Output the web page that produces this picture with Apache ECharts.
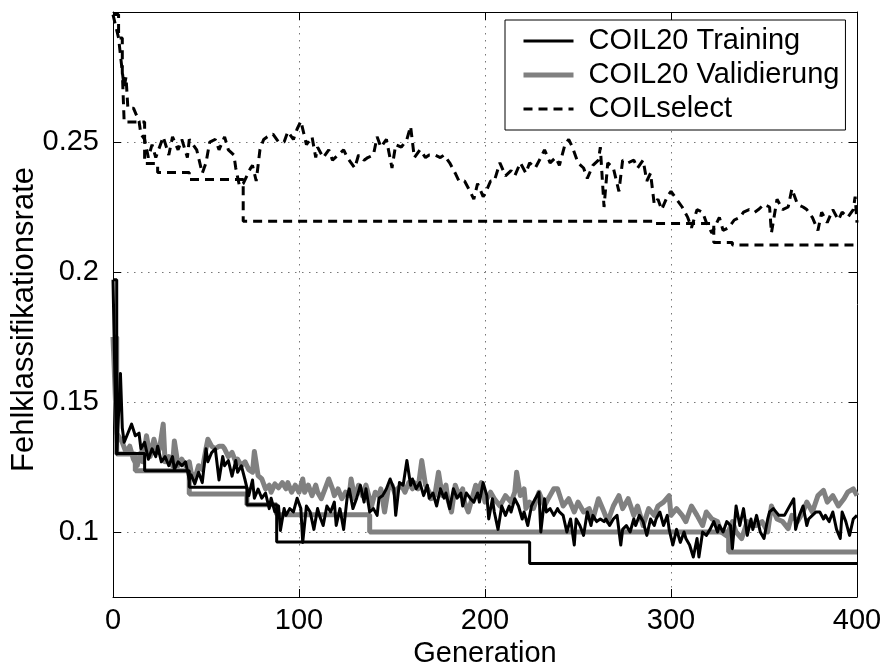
<!DOCTYPE html>
<html><head><meta charset="utf-8">
<script src="https://cdn.jsdelivr.net/npm/echarts@6/dist/echarts.min.js"></script>
<style>html,body{margin:0;padding:0;background:#fff}#c{width:883px;height:663px}</style>
</head><body><div id="c"></div>
<script>
const xTicks = [0, 100, 200, 300, 400];
const yTicks = [0.1, 0.15, 0.2, 0.25];
const legendNames = ['COIL20 Training', 'COIL20 Validierung', 'COILselect'];

// COIL20 Training (noisy)
const trGen = [0,1,2,4,5,6,8,10,12,14,15,17,19,21,23,24,26,28,30,32,33,35,37,39,41,42,44,46,48,50,51,53,55,57,59,60,62,64,66,67,69,71,73,75,76,78,80,82,84,85,87,89,90,92,93,95,97,99,101,102,104,106,108,110,111,113,115,117,119,120,122,124,126,127,129,131,133,135,136,138,140,142,143,145,147,149,151,152,154,156,158,160,161,163,165,167,169,170,172,174,176,178,179,181,183,185,187,188,190,192,194,196,197,199,201,202,204,205,207,209,211,213,214,216,218,220,221,223,225,227,229,230,232,233,235,237,239,240,242,244,246,248,249,251,253,255,257,258,260,262,264,265,267,269,271,273,274,276,278,280,281,283,285,287,289,291,292,294,296,298,299,301,303,305,307,308,310,312,314,315,317,319,321,323,325,326,328,330,332,333,335,337,339,341,343,344,346,348,350,352,353,355,358,361,363,366,367,369,371,373,374,376,378,380,382,383,385,387,389,391,392,394,396,398,400];
const trVal = [0.197,0.16,0.13,0.161,0.14,0.1345,0.138,0.1415,0.137,0.138,0.132,0.1345,0.128,0.132,0.129,0.133,0.127,0.129,0.1255,0.129,0.124,0.127,0.1255,0.127,0.120,0.122,0.1185,0.123,0.119,0.132,0.127,0.1305,0.132,0.120,0.129,0.1255,0.1275,0.1215,0.1275,0.123,0.1255,0.120,0.114,0.120,0.113,0.1165,0.113,0.115,0.109,0.113,0.1077,0.110,0.1006,0.109,0.1064,0.109,0.1077,0.113,0.109,0.096,0.110,0.1077,0.101,0.109,0.1064,0.1025,0.110,0.1077,0.1115,0.1025,0.109,0.101,0.114,0.1166,0.109,0.113,0.118,0.1115,0.1166,0.1077,0.109,0.1064,0.113,0.114,0.1166,0.1204,0.1166,0.1064,0.119,0.118,0.1275,0.118,0.1204,0.1166,0.119,0.114,0.118,0.113,0.115,0.110,0.1166,0.113,0.115,0.109,0.1166,0.113,0.115,0.110,0.115,0.113,0.1115,0.115,0.1115,0.119,0.114,0.105,0.1128,0.1077,0.101,0.110,0.1064,0.110,0.1077,0.1128,0.110,0.105,0.1077,0.1025,0.110,0.1128,0.1153,0.100,0.1128,0.1077,0.109,0.1064,0.109,0.1077,0.1064,0.100,0.105,0.095,0.105,0.1025,0.0987,0.1077,0.1025,0.1064,0.104,0.105,0.104,0.105,0.1025,0.105,0.1064,0.095,0.101,0.1025,0.100,0.105,0.1025,0.1064,0.104,0.0987,0.105,0.1025,0.105,0.1077,0.1025,0.1064,0.101,0.095,0.101,0.096,0.100,0.0975,0.095,0.0904,0.0975,0.0904,0.100,0.0987,0.101,0.104,0.100,0.1025,0.100,0.104,0.1025,0.0936,0.110,0.1025,0.109,0.0987,0.105,0.101,0.1064,0.100,0.0975,0.105,0.1077,0.109,0.1064,0.1064,0.109,0.1128,0.101,0.1064,0.110,0.1025,0.105,0.1064,0.1077,0.1077,0.105,0.1064,0.104,0.1077,0.101,0.0975,0.1077,0.104,0.0987,0.105,0.1064];

// COIL20 Training (best so far, stairs)
const trBestGen = [0,2,17,41,72,88,224,400];
const trBestVal = [0.197,0.1302,0.1236,0.1172,0.1105,0.0962,0.0879,0.0879];

// COIL20 Validierung (noisy)
const vaGen = [0,2,5,7,9,11,13,15,16,18,20,22,24,25,27,28,30,32,33,35,37,39,41,42,44,46,48,50,51,53,55,57,59,60,62,64,66,67,69,71,73,75,76,78,80,82,84,85,87,89,91,93,94,96,98,100,102,103,105,107,109,110,112,114,116,118,119,121,123,125,127,128,130,132,134,136,137,139,141,143,144,146,148,150,152,153,155,157,159,161,162,164,166,168,170,171,173,175,177,179,180,182,184,186,188,189,191,193,195,196,198,200,203,205,208,211,214,216,217,219,221,222,224,226,229,232,234,237,239,242,245,248,250,253,256,258,261,264,266,269,272,274,277,280,282,285,288,291,293,296,299,300,303,306,308,311,314,317,319,322,325,327,330,333,335,338,341,343,346,349,352,354,357,360,363,365,368,371,373,376,379,382,384,387,390,393,395,398,400];
const vaVal = [0.175,0.138,0.1345,0.1306,0.133,0.128,0.1255,0.1306,0.127,0.137,0.129,0.1357,0.1306,0.132,0.1415,0.127,0.129,0.1255,0.135,0.1255,0.128,0.1255,0.127,0.123,0.1204,0.1255,0.124,0.132,0.1357,0.133,0.132,0.133,0.133,0.132,0.129,0.1306,0.127,0.128,0.1255,0.127,0.124,0.123,0.131,0.1217,0.1204,0.1166,0.118,0.1153,0.1185,0.117,0.119,0.1166,0.119,0.1153,0.118,0.1153,0.1204,0.1153,0.118,0.114,0.118,0.1153,0.1128,0.1166,0.1204,0.1166,0.114,0.1166,0.1128,0.1153,0.114,0.1204,0.1128,0.118,0.114,0.118,0.1153,0.110,0.1153,0.114,0.1166,0.1077,0.1166,0.118,0.114,0.1166,0.118,0.1153,0.119,0.1166,0.119,0.1166,0.1275,0.118,0.1153,0.1128,0.114,0.123,0.114,0.118,0.1128,0.1077,0.118,0.114,0.1166,0.1115,0.1077,0.1128,0.118,0.1153,0.119,0.1115,0.1153,0.1128,0.110,0.114,0.1115,0.1153,0.123,0.114,0.1166,0.109,0.1115,0.109,0.1153,0.110,0.1128,0.1166,0.1166,0.110,0.1128,0.1077,0.1115,0.1077,0.109,0.105,0.1128,0.1077,0.104,0.110,0.114,0.109,0.1128,0.1064,0.110,0.1025,0.109,0.1064,0.110,0.1115,0.114,0.1064,0.109,0.1064,0.104,0.110,0.1064,0.1025,0.1077,0.105,0.104,0.100,0.0985,0.104,0.100,0.0975,0.104,0.1025,0.1025,0.104,0.100,0.110,0.105,0.104,0.1013,0.1064,0.104,0.1077,0.1115,0.1077,0.114,0.116,0.1115,0.114,0.110,0.1128,0.1153,0.1166,0.114];

// COIL20 Validierung (stairs)
const vaBestGen = [0,2,12,41,72,88,138,331,400];
const vaBestVal = [0.175,0.13,0.1236,0.1146,0.1105,0.1066,0.1,0.0923,0.0923];

// COILselect (noisy)
const selGen = [0,3,5,6,7,8,11,14,15,17,19,21,23,25,27,30,32,35,37,40,41,45,48,50,52,55,57,60,62,65,66,68,70,72,74,75,77,79,81,83,86,89,92,94,97,99,101,104,107,109,110,113,116,118,121,124,126,130,132,135,137,140,142,144,147,150,152,155,158,160,162,165,168,170,173,176,178,181,184,186,189,192,194,196,199,200,203,205,208,211,214,216,219,222,224,227,230,232,235,238,240,243,245,247,250,253,255,258,261,262,264,266,269,272,274,277,280,282,285,287,289,291,293,295,298,300,303,306,309,311,314,317,319,322,326,328,331,334,337,339,342,345,347,350,353,354,357,360,363,365,368,371,373,376,379,381,384,387,390,392,395,398,399,400];
const selVal = [0.299,0.290,0.277,0.271,0.275,0.263,0.263,0.258,0.253,0.251,0.244,0.249,0.244,0.248,0.252,0.245,0.252,0.247,0.251,0.244,0.251,0.247,0.238,0.242,0.250,0.251,0.247,0.252,0.247,0.245,0.240,0.233,0.234,0.237,0.240,0.241,0.235,0.247,0.251,0.252,0.253,0.250,0.250,0.254,0.251,0.255,0.258,0.249,0.252,0.244,0.248,0.244,0.247,0.243,0.245,0.247,0.244,0.240,0.245,0.243,0.244,0.245,0.252,0.248,0.251,0.240,0.249,0.248,0.251,0.256,0.244,0.247,0.244,0.245,0.245,0.244,0.245,0.242,0.238,0.235,0.235,0.231,0.228,0.234,0.229,0.230,0.235,0.235,0.242,0.237,0.239,0.237,0.242,0.238,0.242,0.240,0.244,0.247,0.242,0.244,0.241,0.249,0.251,0.248,0.242,0.240,0.236,0.241,0.243,0.248,0.225,0.242,0.240,0.231,0.243,0.242,0.243,0.240,0.243,0.235,0.238,0.226,0.228,0.224,0.229,0.231,0.228,0.225,0.221,0.217,0.224,0.223,0.219,0.215,0.221,0.216,0.217,0.220,0.221,0.223,0.224,0.223,0.224,0.226,0.225,0.215,0.228,0.224,0.225,0.232,0.226,0.225,0.224,0.221,0.216,0.223,0.219,0.224,0.220,0.223,0.221,0.224,0.229,0.219];

// COILselect (stairs)
const selBestGen = [0,3,5,6,17,24,41,70,290,323,333,400];
const selBestVal = [0.299,0.290,0.277,0.2577,0.2417,0.2383,0.2356,0.2195,0.2187,0.2113,0.2104,0.2104];

const pairs = (g, v) => g.map((x, i) => [x, v[i]]);
const FONT = "'Liberation Sans', Arial, Helvetica, sans-serif";
const GRAY = '#808080';
const DASH = [9, 6];

const chart = echarts.init(document.getElementById('c'), null, {renderer: 'canvas'});
const gridLine = {show: true, lineStyle: {color: '#777', width: 1, type: [1.5, 5.5]}};
const axisLine = {show: true, onZero: false, lineStyle: {color: '#000', width: 1}};
const baseLine = {type: 'line', showSymbol: false, symbol: 'none', animation: false, silent: true};

chart.setOption({
  animation: false,
  backgroundColor: '#fff',
  textStyle: {fontFamily: FONT},
  grid: {left: 113, right: 26, top: 12, bottom: 66, containLabel: false, outerBoundsMode: 'none'},
  legend: {
    data: [
      {name: legendNames[0], lineStyle: {color: '#000', width: 3}},
      {name: legendNames[1], lineStyle: {color: GRAY, width: 5}},
      {name: legendNames[2], lineStyle: {color: '#000', width: 3, type: DASH}}
    ],
    orient: 'vertical',
    left: 505, top: 20,
    backgroundColor: '#fff',
    borderColor: '#000', borderWidth: 1,
    padding: [4, 6, 4, 16],
    itemGap: 0,
    itemWidth: 50, itemHeight: 20,
    itemStyle: {opacity: 0},
    textStyle: {fontFamily: FONT, fontSize: 29, color: '#000', lineHeight: 34, padding: [0, 0, 0, 10]},
    selectedMode: false
  },
  xAxis: [{
    type: 'value', min: 0, max: 400, interval: 100, position: 'bottom',
    name: 'Generation', nameLocation: 'middle', nameGap: 42, nameMoveOverlap: false,
    nameTextStyle: {fontFamily: FONT, fontSize: 29, color: '#000'},
    axisLine: axisLine,
    axisTick: {show: true, inside: true, length: 8, lineStyle: {color: '#000'}, customValues: xTicks},
    axisLabel: {show: true, fontFamily: FONT, fontSize: 29, color: '#000', margin: 9, customValues: xTicks},
    splitLine: gridLine
  }, {
    type: 'value', min: 0, max: 400, interval: 100, position: 'top',
    axisLine: axisLine,
    axisTick: {show: true, inside: true, length: 8, lineStyle: {color: '#000'}, customValues: xTicks},
    axisLabel: {show: false},
    splitLine: {show: false}
  }],
  yAxis: [{
    type: 'value', min: 0.075, max: 0.3, interval: 0.025, position: 'left',
    name: 'Fehlklassifikationsrate', nameLocation: 'middle', nameGap: 73, nameMoveOverlap: false,
    nameTextStyle: {fontFamily: FONT, fontSize: 31, color: '#000', padding: [0, 30, 0, 0]},
    axisLine: axisLine,
    axisTick: {show: true, inside: true, length: 8, lineStyle: {color: '#000'}, customValues: yTicks},
    axisLabel: {show: true, fontFamily: FONT, fontSize: 29, color: '#000', margin: 14, customValues: yTicks,
      formatter: v => String(+v.toFixed(3))},
    splitLine: gridLine
  }, {
    type: 'value', min: 0.075, max: 0.3, interval: 0.025, position: 'right',
    axisLine: axisLine,
    axisTick: {show: true, inside: true, length: 8, lineStyle: {color: '#000'}, customValues: yTicks},
    axisLabel: {show: false},
    splitLine: {show: false}
  }],
  series: [
    Object.assign({}, baseLine, {name: 'COIL20 Validierung', data: pairs(vaGen, vaVal),
      lineStyle: {color: GRAY, width: 5, join: 'round'}, itemStyle: {color: GRAY}, z: 2}),
    Object.assign({}, baseLine, {name: 'vaBest', step: 'end', data: pairs(vaBestGen, vaBestVal),
      lineStyle: {color: GRAY, width: 5}, itemStyle: {color: GRAY}, z: 2}),
    Object.assign({}, baseLine, {name: 'COIL20 Training', data: pairs(trGen, trVal),
      lineStyle: {color: '#000', width: 3, join: 'round'}, itemStyle: {color: '#000'}, z: 3}),
    Object.assign({}, baseLine, {name: 'trBest', step: 'end', data: pairs(trBestGen, trBestVal),
      lineStyle: {color: '#000', width: 3}, itemStyle: {color: '#000'}, z: 3}),
    Object.assign({}, baseLine, {name: 'COILselect', data: pairs(selGen, selVal),
      lineStyle: {color: '#000', width: 3, type: DASH}, itemStyle: {color: '#000'}, z: 3}),
    Object.assign({}, baseLine, {name: 'selBest', step: 'end', data: pairs(selBestGen, selBestVal),
      lineStyle: {color: '#000', width: 3, type: DASH}, itemStyle: {color: '#000'}, z: 3})
  ]
});
</script></body></html>
